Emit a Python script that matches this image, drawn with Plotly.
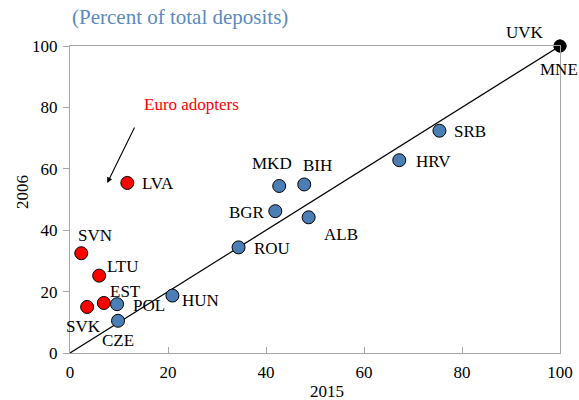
import plotly.graph_objects as go

# ---- data ----
blue_codes = ["SRB", "HRV", "BIH", "MKD", "BGR", "ALB", "ROU", "HUN", "POL", "CZE"]
blue_x2015 = [75.4, 67.2, 47.8, 42.7, 41.9, 48.7, 34.4, 20.9, 9.6, 9.8]
blue_y2006 = [72.4, 62.8, 54.9, 54.4, 46.2, 44.2, 34.4, 18.7, 15.9, 10.5]

red_codes = ["SVN", "LTU", "EST", "SVK", "LVA"]
red_x2015 = [2.3, 5.95, 6.9, 3.5, 11.7]
red_y2006 = [32.5, 25.2, 16.3, 15.0, 55.4]

black_codes = ["UVK", "MNE"]
black_x2015 = [100, 100]
black_y2006 = [100, 100]

diag_x = [0, 100]
diag_y = [0, 100]

tick_vals = [0, 20, 40, 60, 80, 100]
tick_text = ["0", "20", "40", "60", "80", "100"]

title_text = "(Percent of total deposits)"
x_title = "2015"
y_title = "2006"
note_text = "Euro adopters"

# ---- label offsets (pixels, screen: +dx right, +dy down) ----
label_offsets = {
    "UVK": (-35, -14), "MNE": (-1, 23),
    "SRB": (31, 1), "HRV": (34, 1), "BIH": (13, -19), "MKD": (-7, -22),
    "BGR": (-28, 1), "ALB": (32, 17), "ROU": (33, 1), "HUN": (28, 5),
    "POL": (32, 1), "CZE": (0, 20),
    "SVN": (14, -18), "LTU": (24, -9), "EST": (22, -11), "SVK": (-4, 20),
    "LVA": (31, 1),
}

FONT = "Liberation Serif, Times New Roman, serif"
BLUE = "#4A7EB4"
RED = "#FF0000"
AXIS_GREY = "#A6A6A6"

fig = go.Figure()

fig.add_trace(go.Scatter(x=diag_x, y=diag_y, mode="lines",
                         line=dict(color="black", width=1.2),
                         hoverinfo="skip", showlegend=False, cliponaxis=False))

def add_points(xs, ys, color, size):
    fig.add_trace(go.Scatter(x=xs, y=ys, mode="markers",
                             marker=dict(color=color, size=size,
                                         line=dict(color="black", width=1)),
                             showlegend=False, cliponaxis=False))

add_points(blue_x2015, blue_y2006, BLUE, 13)
add_points(red_x2015, red_y2006, RED, 13)
add_points(black_x2015, black_y2006, "black", 12)

annotations = []
for codes, xs, ys in [(blue_codes, blue_x2015, blue_y2006),
                      (red_codes, red_x2015, red_y2006),
                      (black_codes, black_x2015, black_y2006)]:
    for c, x, y in zip(codes, xs, ys):
        dx, dy = label_offsets[c]
        annotations.append(dict(x=x, y=y, xref="x", yref="y", text=c,
                                showarrow=False, xshift=dx, yshift=-dy,
                                xanchor="center", yanchor="middle",
                                font=dict(family=FONT, size=17, color="black")))

# Euro adopters note and arrow
annotations.append(dict(x=24.8, y=80.8, xref="x", yref="y", text=note_text,
                        showarrow=False, xanchor="center", yanchor="middle",
                        font=dict(family=FONT, size=17, color=RED)))
annotations.append(dict(x=7.6, y=55.4, xref="x", yref="y", text="",
                        showarrow=True, ax=28, ay=-57, axref="pixel", ayref="pixel",
                        arrowhead=2, arrowsize=1, arrowwidth=1.1, arrowcolor="black"))

# axis titles
annotations.append(dict(x=0.525, y=-0.126, xref="paper", yref="paper", text=x_title,
                        showarrow=False, xanchor="center", yanchor="middle",
                        font=dict(family=FONT, size=17, color="black")))
annotations.append(dict(x=-0.098, y=0.524, xref="paper", yref="paper", text=y_title,
                        showarrow=False, textangle=-90, xanchor="center", yanchor="middle",
                        font=dict(family=FONT, size=17, color="black")))

fig.update_layout(
    width=579, height=400, autosize=False,
    margin=dict(l=69.5, r=19, t=46, b=47),
    paper_bgcolor="white", plot_bgcolor="white",
    font=dict(family=FONT, size=17, color="black"),
    title=dict(text=title_text, x=72 / 579, xanchor="left", xref="container",
               y=1 - 17 / 400, yanchor="middle",
               font=dict(family=FONT, size=21, color="#5A8AC0")),
    annotations=annotations,
    xaxis=dict(range=[0, 100], tickvals=tick_vals, ticktext=tick_text,
               showgrid=False, zeroline=False, showline=True, linecolor=AXIS_GREY,
               linewidth=1, mirror=True, ticks="inside", ticklen=6,
               tickcolor=AXIS_GREY, tickfont=dict(family=FONT, size=17),
               ticklabelstandoff=4, automargin=False),
    yaxis=dict(range=[0, 100], tickvals=tick_vals, ticktext=tick_text,
               showgrid=False, zeroline=False, showline=True, linecolor=AXIS_GREY,
               linewidth=1, mirror=True, ticks="outside", ticklen=6,
               tickcolor=AXIS_GREY, tickfont=dict(family=FONT, size=17),
               ticklabelstandoff=2, automargin=False),
)

fig.write_html("out.html",
               config={"displayModeBar": False, "responsive": False},
               post_script="document.body.style.margin='0';document.body.style.overflow='hidden';")
